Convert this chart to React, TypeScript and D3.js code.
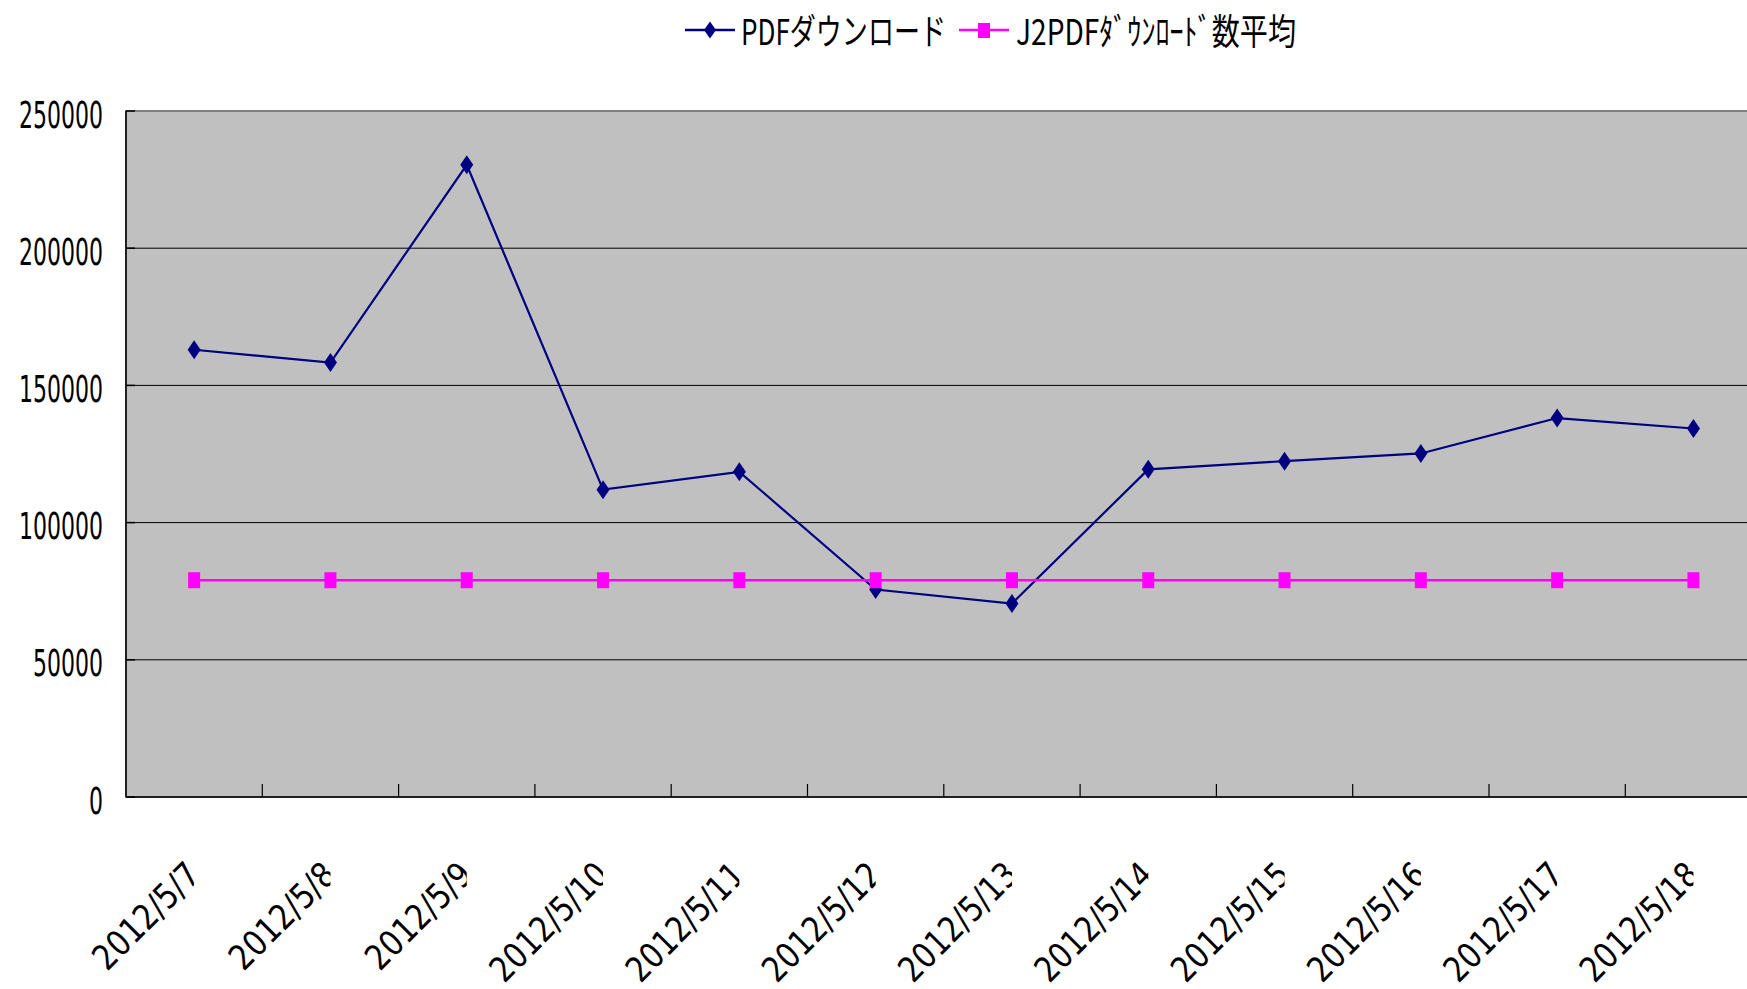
import { useEffect, useRef } from "react";
import * as d3 from "d3";

// dates on the category axis
const dates = [
  "2012/5/7", "2012/5/8", "2012/5/9", "2012/5/10", "2012/5/11", "2012/5/12",
  "2012/5/13", "2012/5/14", "2012/5/15", "2012/5/16", "2012/5/17", "2012/5/18",
];
const pdfDownloads = [
  163000, 158300, 230400, 112000, 118500, 75600,
  70500, 119400, 122400, 125200, 138100, 134300,
];
const j2pdfAverage = [
  79000, 79000, 79000, 79000, 79000, 79000,
  79000, 79000, 79000, 79000, 79000, 79000,
];
const yTicks = [0, 50000, 100000, 150000, 200000, 250000];
const seriesNames = ["PDFダウンロード", "J2PDFﾀﾞｳﾝﾛｰﾄﾞ数平均"];

const width = 1747, height = 989;
const plot = { left: 126, top: 111, bottom: 797, band: 136.3 };
const numFont = "'Liberation Sans Narrow', 'DejaVu Sans Condensed', 'Liberation Sans', sans-serif";
const jpFont = "'Noto Sans CJK JP', 'Liberation Sans Narrow', sans-serif";

const diamond = (x: number, y: number, w: number, h: number) =>
  `M${x},${y - h}L${x + w},${y}L${x},${y + h}L${x - w},${y}Z`;

const LineChart = () => {
  const ref = useRef<HTMLDivElement>(null);

  useEffect(() => {
    const svg = d3
      .select(ref.current)
      .append("svg")
      .attr("width", width)
      .attr("height", height)
      .style("position", "absolute")
      .style("left", 0)
      .style("top", 0)
      .style("background", "#fff");

    const x = d3.scaleBand()
      .domain(dates)
      .range([plot.left, plot.left + plot.band * dates.length])
      .padding(0);
    const cx = (d: string) => (x(d) as number) + x.bandwidth() / 2;

    const y = d3.scaleLinear()
      .domain([0, 250000])
      .range([plot.bottom, plot.top]);

    const right = plot.left + plot.band * dates.length;

    // plot area
    svg.append("rect")
      .attr("x", plot.left)
      .attr("y", plot.top)
      .attr("width", right - plot.left)
      .attr("height", plot.bottom - plot.top)
      .attr("fill", "#c0c0c0")
      .attr("stroke", "#808080")
      .attr("stroke-width", 2);

    // gridlines
    svg.append("g")
      .selectAll("line")
      .data(yTicks.filter(t => t > 0 && t < 250000))
      .join("line")
      .attr("x1", plot.left)
      .attr("x2", right)
      .attr("y1", d => y(d))
      .attr("y2", d => y(d))
      .attr("stroke", "#000")
      .attr("stroke-width", 1);

    // y axis
    const yAxis = svg.append("g");
    yAxis.append("line")
      .attr("x1", plot.left).attr("x2", plot.left)
      .attr("y1", plot.top).attr("y2", plot.bottom)
      .attr("stroke", "#000").attr("stroke-width", 1.5);
    yAxis.selectAll("line.tick")
      .data(yTicks)
      .join("line")
      .attr("class", "tick")
      .attr("x1", plot.left).attr("x2", plot.left + 9)
      .attr("y1", d => y(d)).attr("y2", d => y(d))
      .attr("stroke", "#000").attr("stroke-width", 1.5);
    yAxis.selectAll("text")
      .data(yTicks)
      .join("text")
      .attr("x", 103)
      .attr("y", d => y(d) + 16.5)
      .attr("text-anchor", "end")
      .attr("font-family", numFont)
      .attr("font-size", 37)
      .attr("textLength", d => String(d).length * 14)
      .attr("lengthAdjust", "spacingAndGlyphs")
      .attr("fill", "#000")
      .text(d => String(d));

    // x axis
    const xAxis = svg.append("g");
    xAxis.append("line")
      .attr("x1", plot.left).attr("x2", right)
      .attr("y1", plot.bottom).attr("y2", plot.bottom)
      .attr("stroke", "#000").attr("stroke-width", 1.5);
    xAxis.selectAll("line.tick")
      .data(dates.slice(1))
      .join("line")
      .attr("class", "tick")
      .attr("x1", d => x(d) as number).attr("x2", d => x(d) as number)
      .attr("y1", plot.bottom).attr("y2", plot.bottom - 13)
      .attr("stroke", "#000").attr("stroke-width", 1.2);

    // labels are cut at the category centre, like the original
    const defs = svg.append("defs");
    dates.forEach((d, i) => {
      defs.append("clipPath")
        .attr("id", `xclip-${i}`)
        .append("rect")
        .attr("x", 0).attr("y", plot.bottom + 5)
        .attr("width", cx(d)).attr("height", height);
    });
    xAxis.selectAll("g.lbl")
      .data(dates)
      .join("g")
      .attr("class", "lbl")
      .attr("clip-path", (_, i) => `url(#xclip-${i})`)
      .append("text")
      .attr("transform", d => `translate(${cx(d) + 8},877) rotate(-45)`)
      .attr("text-anchor", "end")
      .attr("font-family", numFont)
      .attr("font-size", 35)
      .attr("textLength", d => d.length * 16.8)
      .attr("lengthAdjust", "spacingAndGlyphs")
      .attr("fill", "#000")
      .text(d => d);

    // series
    const line = d3.line<number>()
      .x((_, i) => cx(dates[i]))
      .y(v => y(v));

    svg.append("path")
      .attr("d", line(pdfDownloads))
      .attr("fill", "none")
      .attr("stroke", "#000080")
      .attr("stroke-width", 2.2);
    svg.append("g")
      .selectAll("path")
      .data(pdfDownloads)
      .join("path")
      .attr("d", (v, i) => diamond(cx(dates[i]), y(v), 6.5, 9.5))
      .attr("fill", "#000080");

    svg.append("path")
      .attr("d", line(j2pdfAverage))
      .attr("fill", "none")
      .attr("stroke", "#ff00ff")
      .attr("stroke-width", 2.6);
    svg.append("g")
      .selectAll("rect")
      .data(j2pdfAverage)
      .join("rect")
      .attr("x", (_, i) => cx(dates[i]) - 6)
      .attr("y", v => y(v) - 8)
      .attr("width", 12)
      .attr("height", 16)
      .attr("fill", "#ff00ff");

    // legend
    const legend = svg.append("g");
    const legendItems = [
      { name: seriesNames[0], color: "#000080", x0: 685, tx: 741, tw: 205, marker: "diamond" },
      { name: seriesNames[1], color: "#ff00ff", x0: 959, tx: 1016, tw: 280, marker: "square" },
    ];
    legendItems.forEach(it => {
      legend.append("line")
        .attr("x1", it.x0).attr("x2", it.x0 + 50)
        .attr("y1", 30).attr("y2", 30)
        .attr("stroke", it.color).attr("stroke-width", 2.4);
      if (it.marker === "diamond") {
        legend.append("path")
          .attr("d", diamond(it.x0 + 25, 30, 6, 8.5))
          .attr("fill", it.color);
      } else {
        legend.append("rect")
          .attr("x", it.x0 + 19).attr("y", 23)
          .attr("width", 12).attr("height", 15)
          .attr("fill", it.color);
      }
      legend.append("text")
        .attr("x", it.tx)
        .attr("y", 45)
        .attr("font-family", jpFont)
        .attr("font-size", 36)
        .attr("textLength", it.tw)
        .attr("lengthAdjust", "spacingAndGlyphs")
        .attr("fill", "#000")
        .text(it.name);
    });

    return () => {
      d3.select(ref.current).select("svg").remove();
    };
  }, []);

  return <div ref={ref}></div>;
};

export default function App() {
  return <LineChart />;
}
